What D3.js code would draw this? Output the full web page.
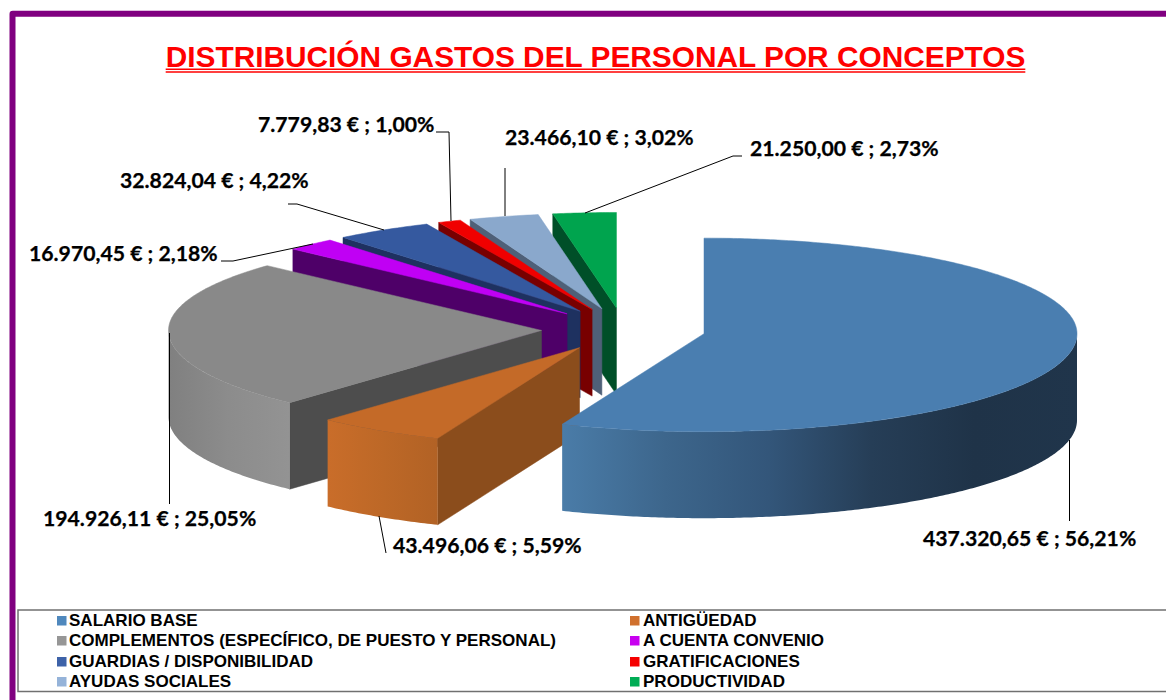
<!DOCTYPE html>
<html><head><meta charset="utf-8">
<script src="https://cdn.jsdelivr.net/npm/d3@7"></script>
<style>html,body{margin:0;padding:0;background:#fff;overflow:hidden}svg{display:block}</style>
</head><body><div id="chart"></div>
<script>
// ---- data ----
const titleText = "DISTRIBUCIÓN GASTOS DEL PERSONAL POR CONCEPTOS";
const categories = ["SALARIO BASE","ANTIGÜEDAD","COMPLEMENTOS (ESPECÍFICO, DE PUESTO Y PERSONAL)","A CUENTA CONVENIO","GUARDIAS / DISPONIBILIDAD","GRATIFICACIONES","AYUDAS SOCIALES","PRODUCTIVIDAD"];
const amounts = [437320.65,43496.06,194926.11,16970.45,32824.04,7779.83,23466.10,21250.00];

// ---- styles ----
const topColors  = ["#4a7eb0","#c46a28","#898989","#c000f4","#35599f","#f00000","#8aa8cc","#00a44e"];
const faceColors = ["#2c4a68","#8b4d1c","#4d4d4d","#4e0068","#1e3160","#780000","#4f6078","#004f28"];
const wallStops  = [
  [[0,"#4a7ca8"],[0.2,"#3d668c"],[0.4,"#33567a"],[0.6,"#263e57"],[0.8,"#1f3348"],[1,"#20354b"]],
  [[0,"#c96d2a"],[0.5,"#bd6827"],[1,"#b26225"]],
  [[0,"#808080"],[0.5,"#8c8c8c"],[1,"#939393"]]
];
const legendColors = ["#4f88bd","#d0702d","#969696","#c800f0","#3d62a8","#f50000","#95b3d9","#00ad55"];

// ---- layout ----
const W=1166,H=700, cx=623.5, cy=329.5, rx=373, ry=98, depth=86.5, explode=0.22, farFlatten=0.975;
const labelPos = [[923,546],[393,553],[43,526],[29,261],[120,188],[258,132],[505,145],[750,156]];
const leaders = [
  [[1069.5,440],[1069.5,521]],
  [[379,516],[386,553]],
  [[169.5,333],[169.5,504]],
  [[221,261],[233,261],[313,244]],
  [[288,204],[297,204],[384,230]],
  [[436,132],[449,132],[451,221]],
  [[505,168],[505,216]],
  [[742,156],[733,156],[585,213]]
];

const svg = d3.select("#chart").append("svg").attr("width",W).attr("height",H);
const defs = svg.append("defs");

// frame
svg.append("path").attr("fill","#800080")
  .attr("d","M9.5,700V14Q9.5,10.7 12.8,10.7H1166V16.7H15.5V700Z");

// title
const title = svg.append("text").attr("x",595.5).attr("y",67).attr("text-anchor","middle")
  .attr("font-family","'Liberation Sans',Arial,sans-serif").attr("font-weight","bold")
  .attr("font-size",29.83).attr("fill","#ff0000").text(titleText);
const tw = title.node().getComputedTextLength();
[69.2,72].forEach(y=>svg.append("line").attr("x1",595.5-tw/2).attr("x2",595.5+tw/2)
  .attr("y1",y).attr("y2",y).attr("stroke","#ff0000").attr("stroke-width",1.5));

// pie
const pie = d3.pie().sort(null).value(d=>d).startAngle(0).endAngle(2*Math.PI);
const arcs = pie(amounts);
const total = d3.sum(amounts);
const sx = d3.scaleLinear().domain([-1,1]).range([cx-rx,cx+rx]);
const sy = d3.scaleLinear().domain([-1,1]).range([cy-ry,cy+ry]);
const line = d3.line();

function px(a,r,mid,dz=0){
  const c=Math.cos(a), flat=c>0?farFlatten:1;
  return [sx(explode*Math.sin(mid)+r*Math.sin(a)), sy(-explode*Math.cos(mid)-r*c*flat)+dz];
}
function samples(a0,a1){
  const n=Math.max(2,Math.ceil((a1-a0)/0.01));
  return d3.range(n+1).map(i=>a0+(a1-a0)*i/n);
}
const order = d3.range(arcs.length).reverse();
const gPie = svg.append("g");
order.forEach(i=>{
  const d=arcs[i], mid=(d.startAngle+d.endAngle)/2, apex=px(0,0,mid);
  const g=gPie.append("g");
  // cut face at the start angle
  if(Math.sin(d.startAngle)<-1e-6){
    const p=px(d.startAngle,1,mid);
    g.append("path").attr("fill",faceColors[i]).attr("stroke",faceColors[i]).attr("stroke-width",.5)
      .attr("d",line([p,apex,[apex[0],apex[1]+depth],[p[0],p[1]+depth]])+"Z");
  }
  // outer wall: only the near half of the rim is seen
  const w0=Math.max(d.startAngle,Math.PI/2), w1=Math.min(d.endAngle,3*Math.PI/2);
  if(w1>w0){
    const ang=samples(w0,w1);
    const upper=ang.map(a=>px(a,1,mid)), lower=ang.map(a=>px(a,1,mid,depth)).reverse();
    const xs=upper.map(p=>p[0]);
    const gid="wall"+i;
    const grad=defs.append("linearGradient").attr("id",gid).attr("gradientUnits","userSpaceOnUse")
      .attr("x1",d3.min(xs)).attr("x2",d3.max(xs)).attr("y1",0).attr("y2",0);
    grad.selectAll("stop").data(wallStops[i]).join("stop")
      .attr("offset",s=>s[0]).attr("stop-color",s=>s[1]);
    g.append("path").attr("fill",`url(#${gid})`).attr("d",line(upper.concat(lower))+"Z");
  }
  // top surface
  const rim=samples(d.startAngle,d.endAngle).map(a=>px(a,1,mid));
  g.append("path").attr("fill",topColors[i]).attr("stroke",topColors[i]).attr("stroke-width",.5)
    .attr("d",line([apex].concat(rim))+"Z");
});

// leaders
svg.append("g").selectAll("path").data(leaders).join("path")
  .attr("fill","none").attr("stroke","#000").attr("stroke-width",1).attr("d",d=>line(d));

// data labels
const loc = d3.formatLocale({decimal:",",thousands:".",grouping:[3],currency:["","€"]});
const fEuro = loc.format(",.2f"), fPct = loc.format(".2f");
svg.append("g").selectAll("text").data(amounts).join("text")
  .attr("x",(d,i)=>labelPos[i][0]).attr("y",(d,i)=>labelPos[i][1])
  .attr("font-family","Lato,sans-serif").attr("font-weight","bold").attr("font-size",21.2)
  .attr("fill","#000").attr("stroke","#000").attr("stroke-width",0.25)
  .text(d=>`${fEuro(d)} € ; ${fPct(d/total*100)}%`);

// legend
svg.append("rect").attr("x",18).attr("y",610).attr("width",1170).attr("height",81.5)
  .attr("fill","none").attr("stroke","#707070").attr("stroke-width",1.5);
const rowY=[616,636,657,677], colX=[57,630];
const leg=svg.append("g").selectAll("g").data(categories).join("g")
  .attr("transform",(d,i)=>`translate(${colX[i%2]},${rowY[Math.floor(i/2)]})`);
leg.append("rect").attr("width",9.5).attr("height",9.5).attr("y",0).attr("fill",(d,i)=>legendColors[i]);
leg.append("text").attr("x",(d,i)=>i%2?13:12).attr("y",10.4)
  .attr("font-family","'Liberation Sans',Arial,sans-serif").attr("font-weight","bold")
  .attr("font-size",17.05).attr("fill","#000").text(d=>d);
</script></body></html>
